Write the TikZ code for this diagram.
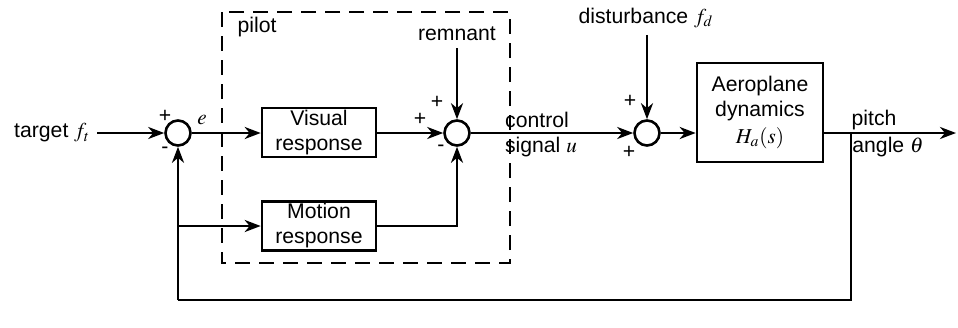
\documentclass[tikz,border=0pt]{standalone}
\usepackage{mathptmx}
\usepackage{fontspec}
\setmainfont{Liberation Sans}
\usetikzlibrary{arrows.meta}

\tikzset{
  block/.style={draw, line width=1.3pt, minimum width=57pt, minimum height=24.5pt, align=center, inner sep=1pt},
  sumnode/.style={draw, circle, line width=1.3pt, minimum size=12.5pt, inner sep=0pt},
  sig/.style={line width=1.3pt, -{Stealth[length=8pt,width=6pt,inset=2.5pt]}},
  wire/.style={line width=1.3pt},
}

\begin{document}
\begin{tikzpicture}[x=0.5pt,y=-0.5pt,font=\fontsize{10.6}{12.5}\selectfont]
\useasboundingbox (0,0) rectangle (958,327);
% pilot boundary
\draw [line width=1.3pt, dash pattern=on 7.5pt off 4.5pt] (222,12) rectangle (510,263);
\node at (257,27) (pilot) {pilot};
% blocks and summing points
\node [sumnode] at (178,133) (s1) {};
\node [sumnode] at (457,133) (s2) {};
\node [sumnode] at (647,133) (s3) {};
\node [block] at (319,132.5) (visual) {Visual\\response};
\node [block] at (319,226) (motion) {Motion\\response};
\node [block, minimum width=63pt, minimum height=49.5pt, inner sep=0pt] at (760,112.5) (plant) {Aeroplane\\dynamics\\[1pt]$H_a(s)$};
% inputs
\node [anchor=east] at (97,133) (target) {target $f_t$};
\node at (457,34) (remnant) {remnant};
\node at (646,18) (dist) {disturbance $f_d$};
% signs
\node at (165,116) (p1) {+};
\node at (165,150) (m1) {-};
\node at (437,102) (p2) {+};
\node at (420,119) (p3) {+};
\node at (441,148) (m2) {-};
\node at (630,101) (p4) {+};
\node at (629,152) (p5) {+};
% signal labels
\node at (202,120) (err) {$e$};
\node at (537,120) (ctrl) {control};
\node at (541,147) (sigu) {signal $u$};
\node at (874,120) (pitch) {pitch};
\node at (888,147) (angle) {angle $\theta$};
% connections
\coordinate (br) at (851,133);
\coordinate (fb) at (178,300);
\coordinate (mb) at (178,226);
\coordinate (out) at (956,133);
\draw [sig] (target) -- (s1);
\draw [sig] (s1) -- (s1 -| visual.west);
\draw [sig] (s2 -| visual.east) -- (s2);
\draw [sig] (remnant) -- (s2);
\draw [sig] (motion.east) -| (s2.south);
\draw [sig] (s2) -- (s3);
\draw [sig] (s3 |- dist.south) -- (s3);
\draw [sig] (s3) -- (s3 -| plant.west);
\draw [sig] (plant.east |- out) -- (out);
\draw [wire] (br) |- (fb);
\draw [sig] (fb) -- (s1);
\draw [sig] (mb) -- (motion);
\end{tikzpicture}
\end{document}
